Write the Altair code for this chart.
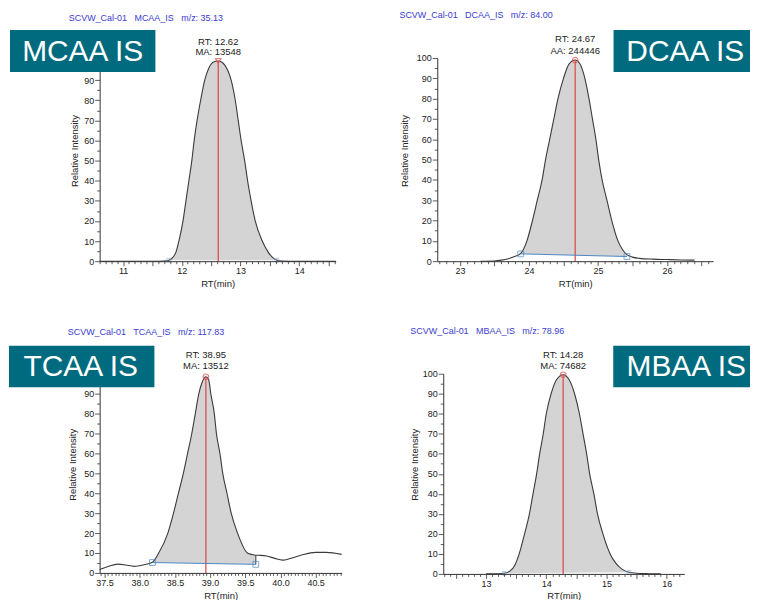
import math
import altair as alt
import pandas as pd

# ---------------- data ----------------
# MCAA IS
MCAA_RT = [10.60, 11.00, 11.50, 11.70, 11.78, 11.85, 11.90, 11.95, 12.02, 12.07, 12.12, 12.17,
           12.21, 12.26, 12.32, 12.39, 12.46, 12.54, 12.62, 12.70, 12.78, 12.84, 12.91, 12.96,
           13.01, 13.07, 13.12, 13.18, 13.25, 13.37, 13.47, 13.56, 13.62, 13.70, 14.00, 14.62]
MCAA_INT = [0, 0, 0, 0.1, 0.5, 2.0, 4.5, 10, 20, 30, 40, 50,
            60, 70, 80, 90, 96, 99, 99.5, 98.5, 95, 90, 80, 70,
            60, 50, 40, 30, 20, 10, 4.5, 1.5, 0.5, 0.1, 0, 0]
MCAA_BASE_RT = [11.78, 13.62]
MCAA_BASE_INT = [0.5, 0.5]
MCAA_PEAK_RT = [12.62]
MCAA_PEAK_INT = [99.5]
MCAA_ANNOT = ["RT: 12.62", "MA: 13548"]
MCAA_HEADER = "SCVW_Cal-01\u00a0\u00a0 MCAA_IS\u00a0\u00a0 m/z: 35.13"
MCAA_LABEL = "MCAA IS"
MCAA_XLABELS = [11, 12, 13, 14]

# DCAA IS
DCAA_RT = [23.30, 23.50, 23.60, 23.70, 23.80, 23.88, 23.97, 24.05, 24.12, 24.19, 24.24, 24.30,
           24.36, 24.42, 24.50, 24.58, 24.67, 24.74, 24.81, 24.87, 24.92, 24.97, 25.01, 25.06,
           25.13, 25.20, 25.29, 25.35, 25.42, 25.50, 25.60, 25.80, 26.00, 26.20, 26.40]
DCAA_INT = [0, 0.1, 0.5, 1.2, 2.4, 3.8, 10, 20, 30, 40, 50, 60,
            70, 80, 90, 97, 99, 97, 90, 80, 70, 60, 50, 40,
            30, 20, 10, 6, 3.2, 2.0, 1.4, 1.0, 0.8, 0.6, 0.5]
DCAA_BASE_RT = [23.88, 25.42]
DCAA_BASE_INT = [3.6, 2.3]
DCAA_PEAK_RT = [24.67]
DCAA_PEAK_INT = [99]
DCAA_ANNOT = ["RT: 24.67", "AA: 244446"]
DCAA_HEADER = "SCVW_Cal-01\u00a0\u00a0 DCAA_IS\u00a0\u00a0 m/z: 84.00"
DCAA_LABEL = "DCAA IS"
DCAA_XLABELS = [23, 24, 25, 26]

# TCAA IS
TCAA_RT = [37.43, 37.55, 37.69, 37.80, 37.92, 38.05, 38.18, 38.27, 38.40, 38.48, 38.55, 38.62,
           38.68, 38.74, 38.79, 38.84, 38.89, 38.94, 38.98, 39.01, 39.06, 39.09, 39.14, 39.18,
           39.24, 39.30, 39.39, 39.53, 39.60, 39.65, 39.72, 39.80, 39.92, 40.03, 40.15, 40.30,
           40.50, 40.65, 40.87]
TCAA_INT = [1.7, 3.2, 4.4, 4.0, 3.3, 4.0, 5.4, 10, 20, 30, 40, 50,
            60, 70, 80, 90, 96, 98.5, 97, 90, 80, 70, 60, 50,
            40, 30, 20, 10, 9.2, 8.9, 8.8, 8.5, 7.3, 6.4, 7.4, 9.0,
            10.3, 10.3, 9.3]
TCAA_BASE_RT = [38.18, 39.65]
TCAA_BASE_INT = [5.2, 4.3]
TCAA_EDGE_TOP = [8.9]
TCAA_PEAK_RT = [38.94]
TCAA_PEAK_INT = [98.5]
TCAA_ANNOT = ["RT: 38.95", "MA: 13512"]
TCAA_HEADER = "SCVW_Cal-01\u00a0\u00a0 TCAA_IS\u00a0\u00a0 m/z: 117.83"
TCAA_LABEL = "TCAA IS"
TCAA_XLABELS = [37.5, 38.0, 38.5, 39.0, 39.5, 40.0, 40.5]

# MBAA IS
MBAA_RT = [13.00, 13.20, 13.30, 13.40, 13.48, 13.55, 13.64, 13.72, 13.78, 13.84, 13.89, 13.95,
           14.00, 14.08, 14.17, 14.28, 14.38, 14.47, 14.55, 14.61, 14.67, 14.72, 14.79, 14.85,
           14.94, 15.06, 15.15, 15.25, 15.37, 15.50, 15.70, 15.90]
MBAA_INT = [0, 0.05, 0.3, 1.5, 4.5, 10, 20, 30, 40, 50, 60, 70,
            80, 90, 97, 99.5, 97, 90, 80, 70, 60, 50, 40, 30,
            20, 10, 5.5, 2.5, 0.8, 0.3, 0.1, 0]
MBAA_BASE_RT = [13.30, 15.37]
MBAA_BASE_INT = [0.3, 0.8]
MBAA_PEAK_RT = [14.28]
MBAA_PEAK_INT = [99.5]
MBAA_ANNOT = ["RT: 14.28", "MA: 74682"]
MBAA_HEADER = "SCVW_Cal-01\u00a0\u00a0 MBAA_IS\u00a0\u00a0 m/z: 78.96"
MBAA_LABEL = "MBAA IS"
MBAA_XLABELS = [13, 14, 15, 16]

Y_TICKS = [0, 5, 10, 15, 20, 25, 30, 35, 40, 45, 50, 55, 60, 65, 70, 75, 80, 85, 90, 95, 100]

# ---------------- styling ----------------
FONT = "Liberation Sans Narrow, Arial Narrow, Liberation Sans, Arial, sans-serif"
BOX_FONT = "Liberation Sans, Arial, sans-serif"
TEAL = "#006a7e"
LINE = "#3a3a3a"
FILL = "#d4d4d4"
RED = "#e05050"
BLUE = "#4a86c5"
LIGHTBLUE = "#8ab4dc"
HEADER_COLOR = "#3b3bd0"
TEXT = "#222222"

ONE = pd.DataFrame({"k": [0]})


def minor_values(lo, hi, step):
    k0 = math.ceil(lo / step - 1e-9)
    k1 = math.floor(hi / step + 1e-9)
    return [round(k * step, 3) for k in range(k0, k1 + 1)]


def panel(rt, inten, base_rt, base_int, peak_rt, peak_int, peak_shape, annot, annot_y,
          header, header_xy, label, box, label_xy, width, height, xdom, ydom,
          minor_step, xlabels, label_fmt, ytitle_xy, xtitle_y, frame,
          baseline_visible, marker_color, edge_top=None, hide_top_label=False):
    curve = pd.DataFrame({"rt": rt, "int": inten})
    base = pd.DataFrame({"rt": base_rt, "int": base_int})
    peak = pd.DataFrame({"rt": peak_rt, "int": peak_int, "zero": [0]})

    xscale = alt.Scale(domain=xdom, nice=False, zero=False)
    yscale = alt.Scale(domain=ydom, nice=False, zero=False)

    lab_list = ",".join(str(v) for v in xlabels)
    lab_test = f"indexof([{lab_list}], round(datum.value*1000)/1000) >= 0"
    major_test = "abs(datum.value*2 - round(datum.value*2)) < 0.001"

    xaxis = alt.Axis(
        values=minor_values(xdom[0], xdom[1], minor_step),
        labelExpr=f"{lab_test} ? format(datum.value, '{label_fmt}') : ''",
        tickSize={"condition": {"test": major_test, "value": 4.5}, "value": 2.5},
        labelOverlap=False, labelFlush=False, grid=False,
        domainColor="#333333", tickColor="#333333", tickWidth=0.8,
        labelColor=TEXT, labelFont=FONT, labelFontSize=9, labelPadding=1,
        title="RT(min)", titleFont=FONT, titleFontSize=9.5, titleFontWeight="normal",
        titleColor=TEXT, titleY=xtitle_y, titleBaseline="middle", zindex=1,
    )
    ylab_test = "datum.value % 10 === 0" + (" && datum.value < 100" if hide_top_label else "")
    yaxis = alt.Axis(
        values=Y_TICKS,
        labelExpr=f"{ylab_test} ? datum.label : ''",
        tickSize={"condition": {"test": "datum.value % 10 === 0", "value": 5}, "value": 3},
        labelOverlap=False, labelFlush=False, grid=False, format="d",
        domainColor="#333333", tickColor="#333333", tickWidth=0.8,
        labelColor=TEXT, labelFont=FONT, labelFontSize=9, labelPadding=1,
        title="Relative Intensity", titleFont=FONT, titleFontSize=9.5,
        titleFontWeight="normal", titleColor=TEXT, titleX=ytitle_xy[0], titleY=ytitle_xy[1],
        titleAngle=270, titleAlign="center", titleBaseline="middle", zindex=0,
    )

    def X(field="rt"):
        return alt.X(f"{field}:Q", scale=xscale, axis=xaxis)

    def Y(field="int"):
        return alt.Y(f"{field}:Q", scale=yscale, axis=yaxis)

    layers = []
    # invisible frame fixing the panel's bounds for the layout
    layers.append(alt.Chart(ONE).mark_rect(fill="white", opacity=0).encode(
        x=alt.value(frame[0]), x2=alt.value(frame[1]),
        y=alt.value(frame[2]), y2=alt.value(frame[3])))
    # gray integrated area
    layers.append(alt.Chart(curve).mark_area(color=FILL, interpolate="monotone", opacity=1)
                  .transform_filter(alt.FieldRangePredicate(field="rt", range=[base_rt[0], base_rt[1]]))
                  .encode(x=X(), y=Y()))
    # white area below the baseline
    layers.append(alt.Chart(base).mark_area(color="white", opacity=1, interpolate="linear")
                  .encode(x=X(), y=Y()))
    if edge_top is not None:
        edge = pd.DataFrame({"rt": [base_rt[1]], "int": [base_int[1]], "top": edge_top})
        layers.append(alt.Chart(edge).mark_rule(color=LINE, strokeWidth=1)
                      .encode(x=X(), y=Y(), y2="top:Q"))
    # chromatogram trace
    layers.append(alt.Chart(curve).mark_line(color=LINE, strokeWidth=1.1, interpolate="monotone")
                  .encode(x=X(), y=Y()))
    # retention time line
    layers.append(alt.Chart(peak).mark_rule(color=RED, strokeWidth=1.3)
                  .encode(x=X(), y=Y("zero"), y2="int:Q"))
    if baseline_visible:
        layers.append(alt.Chart(base).mark_line(color=BLUE, strokeWidth=1)
                      .encode(x=X(), y=Y()))
    layers.append(alt.Chart(base).mark_point(shape="square", filled=False, color=marker_color,
                                             size=34 if baseline_visible else 14, strokeWidth=1)
                  .encode(x=X(), y=Y()))
    layers.append(alt.Chart(peak).mark_point(shape=peak_shape, filled=False, color=RED,
                                             size=30, strokeWidth=1.2)
                  .encode(x=X(), y=Y()))
    # annotation above the peak
    for txt, yy in zip(annot, annot_y):
        layers.append(alt.Chart(peak).mark_text(font=FONT, fontSize=9.5, color=TEXT,
                                                align="center", baseline="middle")
                      .encode(x=X(), y=alt.value(yy), text=alt.value(txt)))
    # header line
    layers.append(alt.Chart(ONE).mark_text(font=FONT, fontSize=9, color=HEADER_COLOR,
                                           align="left", baseline="middle")
                  .encode(x=alt.value(header_xy[0]), y=alt.value(header_xy[1]),
                          text=alt.value(header)))
    # teal label box
    layers.append(alt.Chart(ONE).mark_rect(color=TEAL, opacity=1).encode(
        x=alt.value(box[0]), x2=alt.value(box[1]), y=alt.value(box[2]), y2=alt.value(box[3])))
    layers.append(alt.Chart(ONE).mark_text(font=BOX_FONT, fontSize=30, color="white",
                                           align="center", baseline="middle")
                  .encode(x=alt.value(label_xy[0]), y=alt.value(label_xy[1]),
                          text=alt.value(label)))
    return alt.layer(*layers).properties(width=width, height=height)


p1 = panel(MCAA_RT, MCAA_INT, MCAA_BASE_RT, MCAA_BASE_INT, MCAA_PEAK_RT, MCAA_PEAK_INT,
           "triangle-down", MCAA_ANNOT, [-16.3, -6.3], MCAA_HEADER, (-31, -40),
           MCAA_LABEL, (-90, 56, -28, 14), (-17, -6), 237, 204, [10.60, 14.62], [0, 101],
           0.1, MCAA_XLABELS, "d", (-25, 93), 22, (-92, 237, -49, 235), False, LIGHTBLUE,
           hide_top_label=True)
p2 = panel(DCAA_RT, DCAA_INT, DCAA_BASE_RT, DCAA_BASE_INT, DCAA_PEAK_RT, DCAA_PEAK_INT,
           "circle", DCAA_ANNOT, [-19.5, -7.5], DCAA_HEADER, (-38, -43),
           DCAA_LABEL, (177, 314, -28, 14), (249, -6), 277, 204, [22.67, 26.67], [0, 100],
           0.1, DCAA_XLABELS, "d", (-32.7, 93), 22, (-45, 314, -49, 235), True, BLUE)
p3 = panel(TCAA_RT, TCAA_INT, TCAA_BASE_RT, TCAA_BASE_INT, TCAA_PEAK_RT, TCAA_PEAK_INT,
           "circle", TCAA_ANNOT, [-18.3, -7.3], TCAA_HEADER, (-32, -42.3),
           TCAA_LABEL, (-91, 55, -28, 13.7), (-19, -6.5), 243, 200, [37.43, 40.87], [0, 100],
           0.05, TCAA_XLABELS, ".1f", (-27, 91), 22.7, (-92, 243, -54, 200), True, BLUE,
           edge_top=TCAA_EDGE_TOP, hide_top_label=True)
p4 = panel(MBAA_RT, MBAA_INT, MBAA_BASE_RT, MBAA_BASE_INT, MBAA_PEAK_RT, MBAA_PEAK_INT,
           "circle", MBAA_ANNOT, [-18.3, -8], MBAA_HEADER, (-33, -43.3),
           MBAA_LABEL, (170.7, 308, -28, 13.7), (244, -6.5), 242, 201, [12.29, 16.29], [0, 100],
           0.1, MBAA_XLABELS, "d", (-28.7, 91), 22, (-45, 308, -54, 201), False, LIGHTBLUE)

row1 = alt.hconcat(p1, p2, spacing=54)
row2 = alt.hconcat(p3, p4, spacing=54)
chart = (alt.vconcat(row1, row2, spacing=28)
         .properties(padding=0, background="white")
         .configure_view(strokeWidth=0))

chart.save("out.html", embed_options={"renderer": "svg", "actions": False})
